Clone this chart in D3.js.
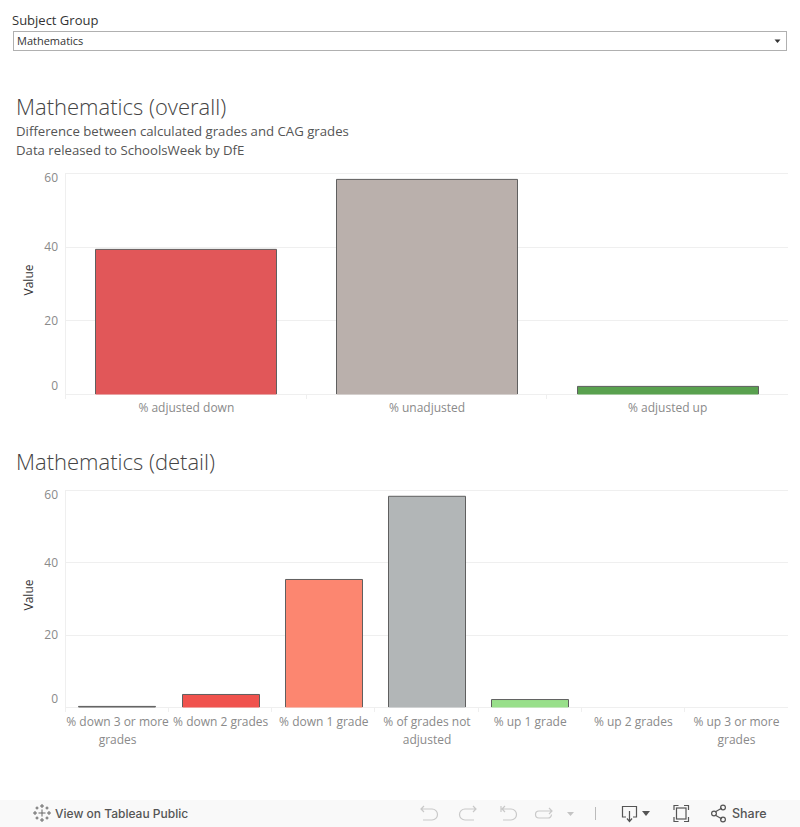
<!DOCTYPE html>
<html>
<head>
<meta charset="utf-8">
<title>Mathematics</title>
<script src="https://cdnjs.cloudflare.com/ajax/libs/d3/7.8.5/d3.min.js"></script>
<style>
html, body { margin: 0; padding: 0; background: #fff; overflow: hidden; }
text { font-family: "Open Sans", sans-serif; }
</style>
</head>
<body>
<script>
var width = 800;
var height = 827;

var overallCategories = ['% adjusted down', '% unadjusted', '% adjusted up'];
var overallValues = [39.4, 58.4, 2.2];
var overallColors = ['#e15759', '#bab0ac', '#59a14f'];

var detailCategories = ['% down 3 or more grades', '% down 2 grades', '% down 1 grade',
    '% of grades not adjusted', '% up 1 grade', '% up 2 grades', '% up 3 or more grades'];
var detailValues = [0.3, 3.6, 35.4, 58.4, 2.2, 0, 0];
var detailColors = ['#5f5f5f', '#f0524d', '#fc8670', '#b2b6b7', '#98df8a', '#59a14f', '#2ca02c'];

var yTicks = [0, 20, 40, 60];

var svg = d3.select('body')
    .append('svg')
    .attr('width', width)
    .attr('height', height)
    .style('display', 'block');

function label(x, y, str, size, color) {
    return svg.append('text')
        .attr('x', x)
        .attr('y', y)
        .attr('font-size', size)
        .attr('fill', color)
        .text(str);
}

// wrap category names the way tableau does
function wrap(sel, w) {
    sel.each(function() {
        var t = d3.select(this);
        var words = t.text().split(' ');
        var y = +t.attr('y');
        var line = [];
        var n = 0;
        var ts = t.text(null).append('tspan').attr('x', 0).attr('y', y);
        words.forEach(function(word) {
            line.push(word);
            ts.text(line.join(' '));
            if (ts.node().getComputedTextLength() > w && line.length > 1) {
                line.pop();
                ts.text(line.join(' '));
                line = [word];
                n++;
                ts = t.append('tspan').attr('x', 0).attr('y', y + n * 18).text(word);
            }
        });
    });
}

function barChart(categories, values, colors, top, bottom, labelGap) {
    var left = 66;
    var right = 788;

    var xScale = d3.scaleBand()
        .domain(categories)
        .range([left, right])
        .paddingInner(0.245)
        .paddingOuter(0.1225);

    var yScale = d3.scaleLinear()
        .domain([0, 60])
        .range([bottom, top]);

    // snap bar edges to the pixel grid
    function barX(i) {
        return Math.round(xScale(categories[i]) - 0.25) + 0.5;
    }

    // gridlines
    svg.append('g')
        .selectAll('line')
        .data(yTicks)
        .enter()
        .append('line')
        .attr('x1', left)
        .attr('x2', right)
        .attr('y1', function(d) { return Math.round(yScale(d)) + 0.5; })
        .attr('y2', function(d) { return Math.round(yScale(d)) + 0.5; })
        .attr('stroke', '#efefef');

    svg.append('line')
        .attr('x1', left - 0.5)
        .attr('x2', left - 0.5)
        .attr('y1', top)
        .attr('y2', bottom)
        .attr('stroke', '#efefef');

    var yAxis = svg.append('g')
        .attr('transform', 'translate(' + left + ',0)')
        .call(d3.axisLeft(yScale).tickValues(yTicks).tickSize(0).tickPadding(8));
    yAxis.select('.domain').remove();
    yAxis.selectAll('text')
        .attr('font-size', 12)
        .attr('font-family', '"Open Sans", sans-serif')
        .attr('fill', '#8a8a8a')
        .attr('dy', function(d) {
            if (d === 60) return '0.68em';
            if (d === 0) return '-0.4em';
            return '0.36em';
        });

    svg.append('text')
        .attr('transform', 'translate(33,' + ((top + bottom) / 2 - 3.5) + ') rotate(-90)')
        .attr('text-anchor', 'middle')
        .attr('font-size', 12)
        .attr('fill', '#333')
        .text('Value');

    var bw = Math.round(xScale.bandwidth()) - 1;

    svg.selectAll('.bar' + top)
        .data(values)
        .enter()
        .append('rect')
        .attr('class', 'bar' + top)
        .attr('x', function(d, i) { return barX(i); })
        .attr('y', function(d) { return yScale(d) + 0.5; })
        .attr('width', bw)
        .attr('height', function(d) { return bottom - yScale(d); })
        .attr('fill', function(d, i) { return colors[i]; })
        .style('display', function(d) { return d > 0 ? null : 'none'; });

    // outline on the top and sides only, the baseline stays light
    svg.selectAll('.edge' + top)
        .data(values)
        .enter()
        .append('path')
        .attr('class', 'edge' + top)
        .attr('d', function(d, i) {
            var x = barX(i);
            return 'M' + x + ' ' + bottom + 'V' + (yScale(d) + 0.5) + 'H' + (x + bw) + 'V' + bottom;
        })
        .attr('fill', 'none')
        .attr('stroke', '#5f5f5f')
        .style('display', function(d) { return d > 0 ? null : 'none'; });

    // x axis with short separators between the bands
    var step = xScale.step();
    var seps = d3.range(categories.length).map(function(i) { return left + i * step; });
    svg.append('g')
        .selectAll('line')
        .data(seps)
        .enter()
        .append('line')
        .attr('x1', function(d) { return Math.round(d) - 0.5; })
        .attr('x2', function(d) { return Math.round(d) - 0.5; })
        .attr('y1', bottom)
        .attr('y2', bottom + 5)
        .attr('stroke', '#efefef');

    var xAxis = svg.append('g')
        .attr('transform', 'translate(0,' + bottom + ')')
        .call(d3.axisBottom(xScale).tickSize(0).tickPadding(labelGap));
    xAxis.select('.domain').remove();
    xAxis.selectAll('text')
        .attr('font-size', 12)
        .attr('font-family', '"Open Sans", sans-serif')
        .attr('fill', '#8a8a8a')
        .attr('dy', 0)
        .call(wrap, step);
}

// filter control
label(12, 25, 'Subject Group', 13, '#333');
svg.append('rect')
    .attr('x', 13.5).attr('y', 31.5)
    .attr('width', 773).attr('height', 19)
    .attr('fill', '#fff')
    .attr('stroke', '#b0b0b0');
label(17, 45, 'Mathematics', 11, '#333');
svg.append('path').attr('d', 'M774.5 39.5h6l-3 3.5z').attr('fill', '#333');

// titles
label(16, 115, 'Mathematics (overall)', 22, '#444').attr('font-weight', 300);
label(16, 136, 'Difference between calculated grades and CAG grades', 13.2, '#555');
label(16, 155, 'Data released to SchoolsWeek by DfE', 13.2, '#555');
label(16, 470, 'Mathematics (detail)', 22, '#444').attr('font-weight', 300);

barChart(overallCategories, overallValues, overallColors, 173, 394, 18);
barChart(detailCategories, detailValues, detailColors, 490, 707, 19);

// tableau toolbar
svg.append('rect').attr('x', 0).attr('y', 800).attr('width', width).attr('height', 27).attr('fill', '#f9f9f9');

var logo = svg.append('g').attr('stroke', '#666').attr('stroke-width', 1).attr('fill', 'none');
[[42, 813, 3.5], [35, 813, 2], [49, 813, 2], [42, 806, 2], [42, 820, 2], [37, 808, 1.5], [47, 808, 1.5], [37, 818, 1.5], [47, 818, 1.5]].forEach(function(c) {
    logo.append('path').attr('d', 'M' + (c[0] - c[2]) + ' ' + c[1] + 'h' + (2 * c[2]) + 'M' + c[0] + ' ' + (c[1] - c[2]) + 'v' + (2 * c[2]));
});
label(55, 818, 'View on Tableau Public', 12, '#555').style('font-family', 'Inter, sans-serif').attr('font-weight', 500);
label(732, 818, 'Share', 12.5, '#555').style('font-family', 'Inter, sans-serif').attr('font-weight', 500);

var icons = svg.append('g').attr('fill', 'none').attr('stroke-width', 1.2);
var faint = '#c9c9c9';
var dark = '#555';
icons.append('path').attr('d', 'M421 809h11a5.5 5.5 0 0 1 0 11h-9M424 806l-3 3 3 3').attr('stroke', faint);
icons.append('path').attr('d', 'M476 809h-11a5.5 5.5 0 0 0 0 11h9M473 806l3 3-3 3').attr('stroke', faint);
icons.append('path').attr('d', 'M501 806v6M502 809h9a5.5 5.5 0 0 1 0 11h-8M505 806l-3 3 3 3').attr('stroke', faint);
icons.append('path').attr('d', 'M552 811h-13a3.5 3.5 0 0 0 0 7h9a3.5 3.5 0 0 0 3.5-3.5M549 808l3 3-3 3').attr('stroke', faint);
svg.append('path').attr('d', 'M567 812h7l-3.5 4z').attr('fill', '#c4c4c4');
svg.append('line').attr('x1', 595.5).attr('x2', 595.5).attr('y1', 807).attr('y2', 820).attr('stroke', '#bbb');
icons.append('path').attr('d', 'M626 817h-3.5v-10.5h14v10.5h-3.5M629.5 811v10M627 818.5l2.5 3 2.5-3').attr('stroke', dark);
svg.append('path').attr('d', 'M642 811h8l-4 5z').attr('fill', dark);
icons.append('path').attr('d', 'M674 810v-4.5h4.5M684 805.5h4.5v4.5M688.5 817v4.5h-4.5M678.5 821.5h-4.5v-4.5').attr('stroke', dark);
icons.append('rect').attr('x', 676.5).attr('y', 808).attr('width', 9.5).attr('height', 11).attr('stroke', dark);
icons.append('path').attr('d', 'M715 812l7-4M715 815l7 4').attr('stroke', dark);
icons.append('circle').attr('cx', 714).attr('cy', 813.5).attr('r', 2.4).attr('stroke', dark);
icons.append('circle').attr('cx', 723).attr('cy', 807.5).attr('r', 2.4).attr('stroke', dark);
icons.append('circle').attr('cx', 723).attr('cy', 819.5).attr('r', 2.4).attr('stroke', dark);
</script>
</body>
</html>
